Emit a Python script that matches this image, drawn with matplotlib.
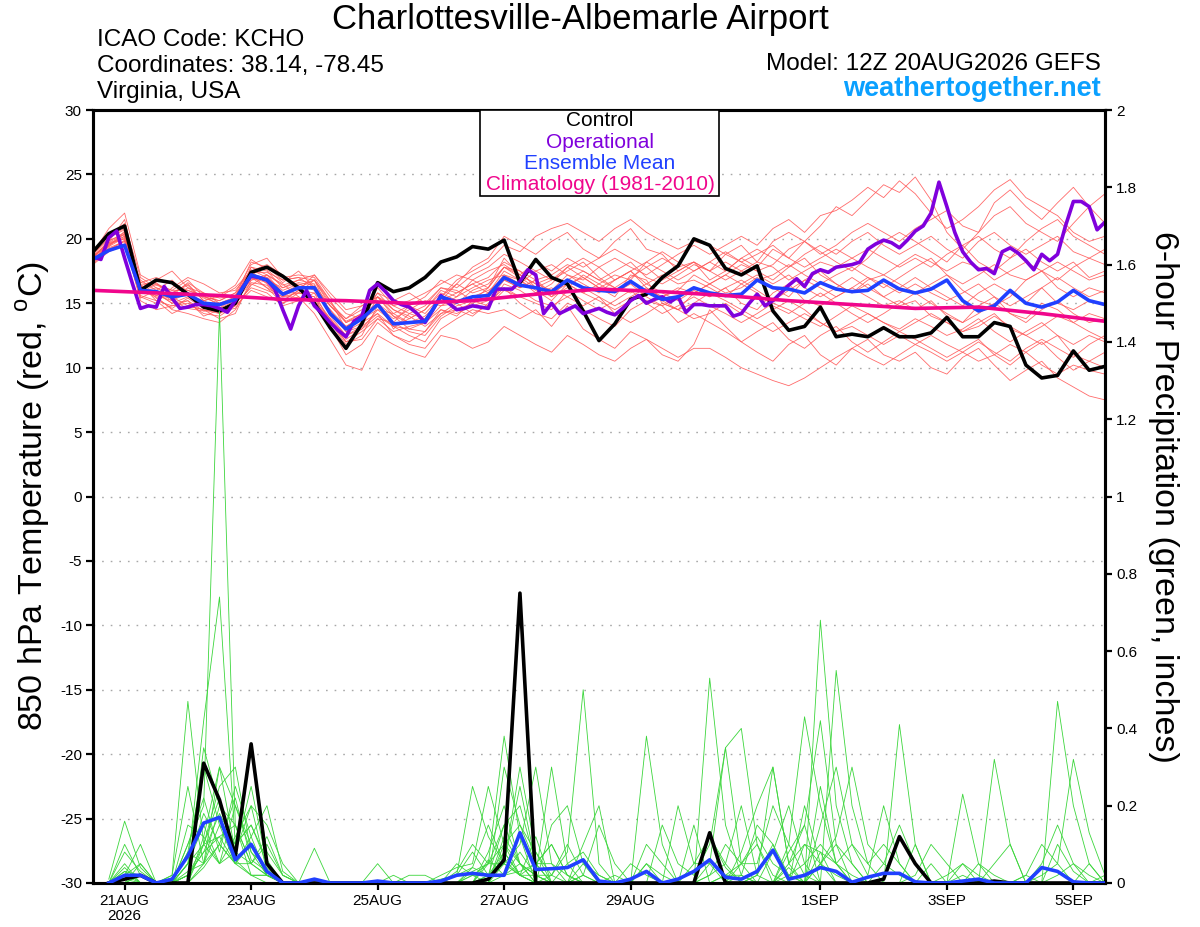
import matplotlib
matplotlib.use("Agg")
import matplotlib.pyplot as plt
from matplotlib.patches import Rectangle
import numpy as np

plt.rcParams['font.family'] = ['Liberation Sans', 'DejaVu Sans']
plt.rcParams['axes.unicode_minus'] = False

# ---- data (hours after 12Z 20AUG2026) ----
control_t = [19.0, 20.4, 21.0, 16.0, 16.8, 16.6, 15.7, 14.7, 14.4, 15.0, 17.4, 17.8, 17.1,
             16.2, 15.0, 13.1, 11.5, 13.4, 16.6, 15.9, 16.2, 17.0, 18.2, 18.6, 19.4, 19.2,
             19.9, 16.6, 18.4, 17.0, 16.5, 14.4, 12.1, 13.4, 15.3, 15.7, 17.0, 17.9, 20.0,
             19.5, 17.7, 17.2, 17.9, 14.4, 12.9, 13.2, 14.7, 12.4, 12.6, 12.4, 13.1, 12.4,
             12.4, 12.7, 13.9, 12.4, 12.4, 13.5, 13.2, 10.2, 9.2, 9.4, 11.3, 9.8, 10.1]

mean_t = [18.4, 19.1, 19.5, 16.0, 15.9, 15.5, 15.7, 15.0, 14.9, 15.3, 17.2, 16.8, 15.7,
          16.2, 16.2, 14.2, 13.0, 13.8, 14.9, 13.4, 13.5, 13.6, 15.5, 15.1, 15.5, 15.6,
          17.0, 16.4, 16.2, 15.9, 16.8, 16.2, 16.0, 15.9, 16.7, 15.9, 15.3, 15.5, 16.2,
          15.8, 15.6, 15.7, 16.8, 16.2, 16.1, 15.8, 16.6, 16.1, 15.9, 16.0, 16.8, 16.1,
          15.8, 16.1, 16.8, 15.2, 14.4, 14.8, 16.0, 15.0, 14.7, 15.1, 16.0, 15.2, 14.9]

# operational run is 3-hourly
oper_t = [18.6, 18.4, 20.1, 20.6, 18.5, 16.5, 14.6, 14.8, 14.7, 16.3, 15.4, 14.6, 14.7, 14.9,
          14.9, 14.8, 14.6, 14.3, 15.2, 16.3, 17.1, 17.0, 16.8, 16.1, 14.5, 13.0, 14.8, 16.0,
          14.8, 14.2, 13.5, 12.9, 12.4, 13.6, 14.0, 16.0, 16.5, 15.9, 15.2, 14.9, 14.7, 14.2,
          13.5, 14.5, 15.6, 15.0, 14.5, 14.6, 14.8, 14.7, 14.6, 16.1, 16.1, 16.1, 16.7, 17.6,
          17.2, 14.2, 15.0, 14.2, 14.5, 14.8, 14.2, 14.4, 14.6, 14.3, 14.1, 14.6, 15.2, 15.6,
          15.0, 15.3, 15.5, 15.1, 15.5, 14.3, 14.9, 14.9, 14.8, 14.8, 14.8, 14.0, 14.2, 15.0,
          15.7, 14.8, 15.2, 15.8, 16.4, 16.9, 16.3, 17.3, 17.6, 17.4, 17.8, 17.9, 18.0, 18.2,
          19.2, 19.6, 19.9, 19.7, 19.3, 19.9, 20.6, 21.0, 22.0, 24.4, 22.5, 20.5, 19.0, 18.2,
          17.6, 17.7, 17.3, 19.0, 19.3, 18.9, 18.3, 17.6, 18.8, 18.3, 18.8, 21.0, 22.9, 22.9,
          22.5, 20.7, 21.3]

# climatology, daily
clim_t = [16.0, 15.8, 15.6, 15.3, 15.2, 15.0, 15.2, 15.7, 16.1, 15.9, 15.6, 15.2, 14.9,
          14.6, 14.7, 14.2, 13.6]

members_t = [
    [18.6, 19.8, 20.5, 16.5, 15.2, 14.8, 15.0, 14.2, 14.0, 14.8, 17.8, 17.5, 16.2,
     16.8, 16.5, 14.0, 12.5, 13.2, 15.5, 14.0, 13.0, 12.8, 14.5, 14.0, 15.2, 15.8,
     17.5, 16.8, 16.0, 15.2, 16.5, 17.0, 16.2, 15.5, 17.2, 16.8, 15.0, 14.5, 15.8,
     16.5, 17.2, 18.0, 17.5, 16.8, 17.8, 18.5, 17.2, 16.5, 15.8, 16.5, 15.5, 14.8,
     15.2, 14.0, 13.5, 12.8, 13.5, 14.2, 13.0, 12.5, 11.8, 12.5, 11.0, 10.5, 11.2],
    [18.2, 19.5, 20.2, 15.8, 16.5, 16.0, 16.8, 15.5, 15.2, 15.8, 17.0, 16.2, 15.0,
     15.8, 16.8, 15.0, 13.8, 14.5, 15.2, 13.0, 14.2, 14.8, 16.2, 15.8, 16.5, 17.0,
     18.2, 17.5, 16.8, 17.2, 18.0, 17.5, 16.8, 17.5, 18.2, 17.0, 16.5, 17.2, 18.0,
     17.5, 18.8, 19.5, 18.2, 19.8, 20.5, 19.8, 21.0, 22.5, 21.8, 23.0, 24.2, 23.6,
     24.8, 23.0, 20.5, 19.2, 20.5, 22.8, 23.8, 22.5, 21.5, 22.8, 24.0, 22.5, 21.2],
    [18.8, 20.0, 21.2, 17.0, 16.2, 15.5, 14.8, 14.5, 13.8, 14.2, 16.8, 17.2, 16.5,
     15.5, 15.0, 13.5, 11.8, 12.5, 14.8, 13.2, 12.5, 12.0, 13.8, 14.5, 14.0, 15.0,
     16.2, 15.0, 14.2, 13.8, 15.0, 14.5, 13.8, 13.2, 14.5, 15.2, 14.8, 13.5, 14.2,
     13.5, 12.8, 12.0, 11.2, 10.5, 11.8, 12.5, 11.0, 10.2, 11.5, 12.2, 11.0, 10.5,
     11.2, 10.0, 9.5, 10.8, 11.5, 10.2, 9.0, 9.8, 10.5, 9.2, 8.5, 7.8, 7.5],
    [18.5, 19.2, 19.8, 16.2, 16.8, 17.5, 16.2, 15.8, 15.0, 15.5, 18.2, 17.8, 16.8,
     17.0, 16.2, 14.8, 13.5, 14.0, 16.2, 14.8, 14.2, 13.8, 15.5, 16.5, 15.8, 16.2,
     18.5, 17.2, 16.5, 16.0, 17.2, 16.5, 15.8, 16.8, 17.5, 16.2, 15.5, 16.0, 17.2,
     16.5, 15.8, 16.2, 17.0, 16.2, 15.5, 16.8, 17.5, 16.5, 15.8, 16.8, 17.2, 16.5,
     15.8, 16.5, 17.2, 16.0, 15.2, 14.8, 15.5, 16.8, 17.5, 16.2, 15.5, 16.2, 15.8],
    [18.0, 19.0, 19.5, 15.5, 15.0, 16.2, 17.0, 16.5, 15.8, 16.0, 17.5, 16.5, 15.2,
     16.0, 17.2, 15.5, 14.2, 13.8, 14.5, 13.5, 14.8, 15.5, 16.8, 16.2, 17.2, 17.8,
     18.8, 18.2, 17.5, 16.8, 17.8, 18.5, 17.8, 16.8, 17.5, 18.2, 17.5, 16.8, 17.5,
     18.2, 17.5, 18.5, 19.2, 18.5, 17.8, 18.8, 19.5, 18.8, 19.8, 20.5, 19.5, 18.8,
     19.5, 20.2, 19.2, 18.5, 19.8, 20.5, 19.5, 18.8, 19.5, 20.2, 19.0, 18.5, 19.2],
    [19.0, 20.2, 20.8, 16.0, 15.5, 14.5, 14.2, 13.8, 13.5, 14.5, 16.5, 16.0, 15.5,
     15.8, 15.5, 13.2, 11.0, 11.8, 13.5, 12.5, 11.8, 11.5, 13.0, 13.8, 14.5, 14.2,
     14.5, 13.8, 14.5, 13.2, 14.8, 13.0, 12.2, 11.5, 12.8, 12.2, 11.0, 10.5, 11.8,
     14.5, 13.2, 12.0, 12.8, 13.5, 12.2, 11.5, 12.5, 13.2, 12.0, 11.2, 12.0, 12.8,
     12.2, 11.5, 10.8, 11.5, 12.2, 11.0, 10.2, 11.2, 12.0, 10.8, 9.8, 10.5, 10.0],
    [18.4, 19.6, 20.0, 16.8, 16.0, 15.2, 15.8, 15.0, 14.8, 15.2, 16.8, 17.0, 16.0,
     16.5, 16.0, 14.5, 13.2, 13.8, 14.8, 13.8, 14.5, 15.2, 14.8, 15.5, 16.2, 16.8,
     17.2, 16.5, 17.5, 18.0, 17.2, 16.8, 17.8, 18.5, 17.8, 17.2, 18.0, 18.8, 19.5,
     18.8, 19.5, 20.2, 19.5, 20.8, 21.5, 20.5, 21.8, 22.2, 23.0, 24.0, 23.2, 24.5,
     23.5, 22.0, 20.8, 21.5, 22.5, 23.8, 24.6, 23.2, 22.5, 21.8, 20.5, 19.8, 20.2],
    [18.7, 19.4, 20.6, 16.2, 15.8, 15.0, 15.5, 14.8, 14.2, 15.0, 17.2, 16.2, 15.5,
     16.2, 16.8, 14.2, 12.8, 13.5, 14.2, 13.2, 13.8, 14.5, 15.8, 15.2, 15.5, 16.0,
     16.8, 16.2, 16.8, 15.5, 16.2, 17.2, 16.5, 15.8, 16.5, 15.5, 14.8, 15.5, 16.2,
     15.5, 16.2, 15.0, 14.5, 15.8, 16.5, 15.2, 14.8, 15.5, 16.2, 15.5, 14.8, 15.2,
     14.5, 15.2, 14.0, 13.5, 14.8, 15.5, 14.2, 13.8, 15.0, 14.5, 13.5, 14.2, 13.8],
    [18.9, 20.8, 22.0, 17.2, 16.5, 15.8, 16.5, 15.2, 15.5, 16.2, 17.5, 18.0, 17.2,
     16.0, 15.2, 13.8, 12.2, 13.0, 14.5, 14.2, 13.5, 14.0, 15.2, 16.5, 17.8, 18.5,
     20.2, 19.5, 18.8, 19.8, 20.5, 19.2, 18.5, 19.8, 20.8, 19.2, 18.8, 17.5, 18.2,
     16.8, 17.5, 18.5, 17.8, 19.2, 18.5, 19.8, 18.8, 19.5, 20.5, 21.2, 20.5, 19.8,
     20.8, 21.5, 22.2, 21.0, 20.5, 21.8, 22.5, 21.2, 20.5, 19.8, 21.2, 22.5, 23.5],
    [18.3, 19.3, 19.8, 15.2, 14.5, 14.8, 15.2, 14.0, 14.5, 15.0, 16.2, 15.8, 14.8,
     15.2, 15.8, 13.5, 12.0, 12.8, 13.8, 12.8, 13.2, 13.5, 14.8, 15.0, 14.2, 14.8,
     16.0, 15.5, 15.0, 14.5, 16.0, 15.2, 14.5, 15.2, 16.0, 15.0, 14.2, 14.8, 15.5,
     14.8, 14.2, 13.5, 14.2, 15.0, 14.5, 13.8, 13.2, 14.0, 14.8, 14.2, 13.5, 13.0,
     13.8, 13.2, 12.5, 13.0, 13.8, 12.8, 12.0, 12.8, 13.5, 12.5, 11.8, 12.5, 12.0],
    [18.6, 19.7, 20.4, 16.6, 17.0, 16.5, 16.0, 15.5, 15.2, 15.8, 18.0, 18.5, 17.0,
     17.2, 17.0, 15.2, 13.0, 14.2, 15.8, 14.5, 14.0, 13.2, 14.2, 15.0, 16.0, 16.5,
     17.8, 17.0, 16.2, 16.8, 17.5, 18.2, 17.0, 16.2, 17.0, 17.8, 18.5, 17.8, 18.2,
     17.5, 18.2, 17.5, 18.2, 17.8, 16.8, 17.5, 18.2, 17.8, 18.5, 19.2, 18.5, 17.8,
     18.5, 17.8, 18.8, 19.5, 18.2, 17.5, 18.5, 19.2, 18.2, 17.5, 18.2, 17.0, 17.5],
    [18.1, 19.1, 19.9, 15.6, 15.2, 14.2, 14.8, 14.5, 14.2, 14.8, 16.0, 15.5, 15.0,
     15.5, 14.2, 12.2, 10.2, 9.8, 12.5, 11.8, 11.2, 10.8, 12.5, 12.2, 11.5, 12.0,
     13.2, 12.5, 11.8, 11.2, 12.5, 11.8, 11.0, 10.5, 11.5, 12.2, 11.5, 10.8, 11.5,
     11.5, 10.8, 10.0, 9.5, 9.0, 8.6, 9.2, 10.0, 10.8, 11.5, 10.8, 10.2, 11.0,
     11.8, 11.2, 10.5, 11.2, 12.0, 11.2, 10.5, 11.5, 12.2, 11.5, 10.8, 11.8, 12.5],
    [18.5, 19.9, 20.3, 15.9, 16.2, 15.8, 16.4, 15.2, 14.6, 15.6, 17.6, 17.0, 15.8,
     16.4, 16.8, 15.2, 13.5, 14.2, 15.0, 14.0, 13.5, 13.8, 15.2, 15.8, 16.5, 15.8,
     17.2, 16.8, 15.8, 16.5, 17.8, 17.0, 16.2, 16.8, 17.5, 16.5, 15.8, 15.2, 16.0,
     15.5, 16.2, 16.8, 16.0, 15.2, 16.0, 16.8, 16.2, 15.5, 16.2, 17.0, 16.5, 15.8,
     16.5, 15.8, 15.2, 15.8, 16.5, 15.5, 14.8, 15.5, 16.2, 15.0, 14.5, 15.2, 14.8],
    [18.3, 19.4, 20.1, 16.3, 15.6, 15.4, 16.2, 15.4, 15.0, 15.4, 17.8, 17.2, 16.4,
     16.8, 17.2, 15.8, 14.5, 14.8, 15.5, 14.2, 14.8, 14.2, 15.5, 16.8, 17.5, 18.2,
     19.5, 19.0, 20.2, 20.8, 21.2, 20.5, 19.8, 20.8, 21.5, 20.5, 19.8, 19.2, 19.8,
     19.5, 18.8, 18.2, 18.8, 19.5, 18.5, 17.8, 18.5, 19.2, 18.5, 17.8, 17.2, 18.0,
     18.8, 18.2, 17.5, 18.2, 17.8, 16.8, 17.5, 18.2, 17.5, 16.8, 17.8, 18.5, 18.0],
    [18.8, 20.1, 20.7, 16.4, 15.4, 14.6, 15.4, 14.6, 14.4, 15.0, 17.0, 16.6, 15.6,
     15.4, 15.0, 13.8, 12.0, 12.2, 13.8, 13.5, 12.8, 12.5, 14.0, 14.8, 15.2, 14.8,
     16.5, 16.0, 15.2, 14.8, 15.5, 16.2, 15.5, 14.8, 15.5, 16.2, 15.2, 14.5, 15.0,
     15.8, 15.2, 14.5, 13.8, 14.5, 15.2, 14.5, 13.5, 12.8, 13.5, 14.2, 13.5, 12.8,
     13.5, 14.2, 13.5, 12.8, 13.2, 14.0, 13.2, 12.5, 13.2, 14.0, 13.5, 12.8, 12.2],
    [18.2, 19.2, 19.6, 15.4, 16.0, 16.8, 15.6, 15.2, 15.6, 16.4, 18.4, 17.6, 16.6,
     17.5, 16.2, 14.2, 13.2, 14.0, 15.8, 15.2, 15.8, 15.0, 16.2, 16.0, 15.2, 16.2,
     17.8, 17.2, 16.5, 17.0, 16.5, 15.8, 16.5, 17.2, 16.8, 18.2, 19.0, 18.2, 17.5,
     18.2, 19.0, 18.2, 17.5, 18.0, 19.2, 19.8, 19.0, 18.2, 17.5, 18.5, 19.8, 20.5,
     19.8, 19.0, 18.2, 19.5, 20.2, 19.2, 18.5, 19.8, 20.8, 21.5, 20.2, 19.5, 18.8],
    [18.6, 19.6, 20.2, 16.0, 15.6, 15.2, 14.6, 14.4, 14.6, 15.2, 16.6, 16.4, 15.2,
     16.0, 15.8, 14.5, 12.8, 13.2, 14.2, 12.5, 12.0, 12.8, 14.2, 14.5, 15.0, 15.5,
     16.2, 15.5, 15.8, 16.2, 15.5, 14.8, 15.5, 14.2, 13.5, 14.2, 15.0, 14.5, 13.8,
     14.2, 15.0, 14.2, 13.5, 12.8, 13.5, 14.2, 13.5, 12.8, 13.2, 12.5, 11.8, 12.5,
     11.8, 12.5, 11.8, 11.2, 10.5, 11.0, 11.8, 11.2, 10.2, 9.5, 10.2, 9.8, 9.5],
    [18.4, 19.5, 20.4, 16.6, 16.4, 16.0, 16.0, 15.6, 14.8, 15.4, 17.4, 17.4, 16.8,
     17.0, 16.8, 14.8, 13.8, 14.8, 15.5, 14.5, 13.8, 14.5, 16.0, 15.5, 16.8, 16.2,
     17.8, 17.5, 16.2, 15.5, 16.8, 17.5, 16.8, 16.2, 15.8, 16.5, 17.2, 16.5, 16.8,
     16.2, 15.5, 16.5, 17.2, 16.5, 17.2, 16.2, 15.5, 16.2, 17.0, 16.2, 15.5, 16.2,
     17.0, 16.2, 15.5, 14.8, 15.8, 16.5, 15.8, 15.0, 16.2, 17.0, 16.2, 15.5, 16.0],
    [18.5, 19.8, 21.5, 16.2, 15.8, 15.0, 15.2, 14.4, 14.4, 14.6, 16.4, 17.2, 15.8,
     15.8, 15.5, 13.8, 12.5, 13.0, 14.0, 13.2, 13.0, 13.5, 14.5, 14.2, 14.8, 15.2,
     16.8, 16.2, 16.8, 15.8, 16.5, 15.8, 15.2, 14.5, 15.2, 16.0, 15.5, 16.2, 15.8,
     16.5, 17.2, 16.5, 15.8, 14.8, 14.2, 15.0, 15.8, 15.0, 14.2, 13.5, 14.2, 15.0,
     15.8, 15.0, 14.2, 13.5, 14.2, 15.0, 14.2, 13.5, 14.5, 15.2, 14.2, 13.5, 13.8],
    [18.7, 19.7, 20.0, 16.4, 16.6, 15.6, 16.6, 15.8, 15.4, 15.6, 17.0, 16.8, 16.2,
     16.6, 16.4, 14.8, 13.6, 14.2, 15.5, 14.8, 15.2, 15.8, 16.5, 17.2, 16.8, 17.5,
     18.0, 17.2, 18.2, 17.5, 18.5, 17.8, 18.5, 19.2, 18.5, 17.8, 16.8, 17.5, 18.2,
     17.5, 16.8, 17.5, 16.8, 17.2, 18.0, 17.2, 16.5, 17.2, 17.8, 17.0, 16.2, 17.0,
     17.8, 18.5, 17.2, 16.5, 17.2, 18.0, 17.2, 16.8, 17.5, 18.2, 17.5, 16.8, 17.2],
]

# 6-hour precipitation (inches), valid 6h..384h
control_p = [0, 0.01, 0.02, 0, 0, 0, 0.31, 0.215, 0.07, 0.36, 0.05, 0, 0, 0, 0, 0,
             0, 0, 0, 0, 0, 0, 0, 0, 0.01, 0.06, 0.75, 0, 0, 0, 0, 0,
             0, 0, 0, 0, 0, 0, 0.13, 0, 0, 0, 0, 0, 0, 0, 0, 0,
             0, 0.01, 0.12, 0.05, 0, 0, 0, 0, 0.005, 0, 0, 0, 0, 0, 0, 0]

mean_p = [0, 0.02, 0.02, 0, 0.01, 0.07, 0.155, 0.17, 0.06, 0.10, 0.03, 0, 0, 0.01, 0, 0,
          0, 0.005, 0, 0, 0, 0.005, 0.02, 0.025, 0.02, 0.02, 0.13, 0.035, 0.037, 0.04, 0.06, 0.005,
          0, 0.01, 0.03, 0, 0.01, 0.03, 0.06, 0.015, 0.01, 0.03, 0.085, 0.01, 0.02, 0.04, 0.03, 0.002,
          0.015, 0.025, 0.025, 0.003, 0, 0, 0.005, 0.01, 0, 0, 0, 0.04, 0.03, 0.003, 0, 0]

members_p = [
    [0, 0.02, 0.1, 0, 0, 0.1, 0.2, 1.48, 0.15, 0.05, 0.02, 0, 0, 0, 0, 0,
     0, 0, 0, 0, 0, 0, 0, 0.02, 0.05, 0.1, 0.15, 0.08, 0.02, 0, 0, 0,
     0, 0, 0.05, 0, 0, 0, 0.12, 0.04, 0, 0, 0, 0.1, 0.43, 0.2, 0.05, 0,
     0, 0, 0, 0, 0, 0, 0, 0, 0, 0, 0, 0.02, 0.05, 0, 0, 0],
    [0.01, 0.16, 0.04, 0, 0, 0.05, 0.42, 0.74, 0.1, 0.15, 0.05, 0, 0, 0, 0, 0,
     0, 0, 0, 0, 0, 0, 0.03, 0.1, 0.05, 0.38, 0.12, 0, 0, 0.05, 0.08, 0.02,
     0, 0, 0, 0, 0, 0, 0.53, 0.15, 0.02, 0, 0, 0, 0, 0.68, 0.2, 0.05,
     0, 0, 0, 0, 0.05, 0, 0, 0, 0, 0, 0, 0, 0.1, 0.03, 0, 0],
    [0, 0.03, 0, 0, 0.02, 0.47, 0.1, 0.25, 0.3, 0.08, 0.02, 0, 0, 0, 0, 0,
     0, 0, 0, 0, 0, 0.02, 0.04, 0.05, 0.25, 0.1, 0.05, 0.02, 0, 0, 0.02, 0,
     0, 0, 0.38, 0.1, 0, 0, 0, 0, 0.08, 0.2, 0.3, 0.05, 0, 0, 0.55, 0.2,
     0.05, 0, 0, 0, 0, 0, 0, 0, 0, 0, 0, 0, 0.47, 0.2, 0.05, 0],
    [0, 0, 0.05, 0, 0, 0.08, 0.3, 0.15, 0.05, 0.12, 0.2, 0.03, 0, 0, 0, 0,
     0, 0, 0.02, 0, 0, 0, 0, 0, 0, 0.3, 0.15, 0.05, 0.1, 0.02, 0, 0,
     0, 0, 0, 0, 0, 0, 0.05, 0.35, 0.4, 0.1, 0, 0, 0, 0, 0, 0,
     0, 0, 0.41, 0.1, 0, 0, 0, 0, 0, 0, 0, 0, 0, 0, 0, 0],
    [0, 0.1, 0.02, 0, 0, 0.02, 0.35, 0.2, 0.08, 0.25, 0.05, 0, 0, 0.09, 0, 0,
     0, 0.05, 0, 0, 0, 0, 0.02, 0.25, 0.12, 0.05, 0.02, 0, 0.02, 0.08, 0.5, 0.05,
     0, 0, 0, 0, 0, 0, 0, 0.02, 0.05, 0.1, 0.02, 0, 0, 0.25, 0.05, 0,
     0, 0, 0, 0, 0, 0, 0.23, 0.05, 0, 0, 0, 0, 0, 0, 0, 0],
    [0, 0, 0, 0, 0, 0.15, 0.12, 0.3, 0.2, 0.1, 0.02, 0, 0, 0, 0, 0,
     0, 0, 0, 0, 0, 0, 0, 0, 0, 0.05, 0.3, 0.08, 0, 0, 0.02, 0.15,
     0.05, 0, 0.1, 0.05, 0, 0, 0, 0, 0, 0.02, 0.3, 0.05, 0.15, 0.42, 0.1, 0,
     0, 0, 0, 0, 0, 0, 0, 0, 0.32, 0.1, 0, 0, 0, 0, 0.05, 0],
    [0, 0.03, 0.02, 0, 0, 0.05, 0.18, 0.1, 0.22, 0.06, 0.03, 0, 0, 0, 0, 0,
     0, 0, 0, 0, 0, 0.01, 0.02, 0.04, 0.15, 0.05, 0.1, 0.3, 0.05, 0, 0, 0,
     0, 0, 0, 0, 0.2, 0.05, 0.12, 0.05, 0, 0, 0, 0.04, 0, 0.15, 0.3, 0.1,
     0.05, 0.1, 0.05, 0, 0, 0, 0.05, 0.02, 0, 0, 0.02, 0.1, 0.05, 0.32, 0.13, 0.02],
    [0, 0, 0, 0, 0.02, 0.25, 0.05, 0.15, 0.1, 0.35, 0.08, 0.02, 0, 0, 0, 0,
     0, 0, 0, 0, 0, 0, 0, 0, 0.02, 0.08, 0.02, 0, 0.15, 0.2, 0.05, 0,
     0, 0, 0, 0, 0, 0, 0, 0, 0.05, 0.12, 0.05, 0.02, 0, 0.05, 0.12, 0.3,
     0.1, 0.05, 0.02, 0, 0, 0, 0, 0, 0.05, 0.1, 0, 0, 0.02, 0.05, 0.02, 0],
    [0, 0.01, 0, 0, 0, 0, 0.12, 0.05, 0.08, 0.2, 0.15, 0.05, 0, 0, 0, 0,
     0, 0, 0, 0, 0, 0, 0, 0.04, 0.02, 0.02, 0.05, 0.02, 0, 0, 0, 0,
     0, 0, 0, 0.15, 0.05, 0.02, 0.1, 0.35, 0.05, 0, 0, 0.02, 0.05, 0.1, 0.05, 0.1,
     0.02, 0.2, 0.05, 0, 0, 0, 0, 0.05, 0.02, 0, 0, 0, 0, 0, 0, 0],
    [0, 0.08, 0.03, 0, 0, 0.02, 0.1, 0.12, 0.05, 0.05, 0.02, 0, 0, 0, 0, 0,
     0, 0, 0, 0.02, 0.02, 0, 0, 0, 0.08, 0.2, 0.05, 0, 0, 0, 0.1, 0.2,
     0, 0, 0, 0, 0, 0, 0.02, 0.1, 0.05, 0.05, 0.2, 0.1, 0.02, 0, 0, 0,
     0, 0, 0, 0, 0, 0.02, 0.05, 0, 0, 0, 0, 0.05, 0.15, 0.05, 0, 0.02],
    [0, 0, 0.02, 0, 0, 0.08, 0.05, 0.2, 0.15, 0.05, 0.1, 0.02, 0, 0, 0, 0,
     0, 0, 0, 0, 0, 0, 0.05, 0.02, 0, 0.12, 0.05, 0, 0, 0, 0.05, 0.02,
     0, 0, 0.05, 0.02, 0, 0, 0, 0, 0, 0, 0, 0, 0.2, 0.05, 0, 0,
     0, 0, 0, 0, 0, 0, 0.02, 0, 0, 0, 0, 0, 0, 0, 0, 0],
    [0, 0, 0, 0, 0, 0.02, 0.08, 0.18, 0.1, 0.15, 0.06, 0, 0, 0, 0, 0,
     0, 0, 0, 0, 0, 0, 0, 0.02, 0.02, 0.06, 0.02, 0.02, 0.3, 0.05, 0, 0,
     0, 0.05, 0.02, 0, 0, 0, 0.02, 0.05, 0.2, 0.02, 0, 0, 0, 0.05, 0.1, 0.05,
     0, 0, 0, 0, 0, 0, 0, 0, 0, 0, 0, 0, 0, 0, 0, 0],
    [0, 0.02, 0.05, 0, 0, 0.1, 0.22, 0.08, 0.25, 0.12, 0.02, 0, 0, 0, 0, 0,
     0, 0, 0, 0, 0, 0, 0, 0, 0.06, 0.02, 0.03, 0.05, 0.1, 0.02, 0, 0,
     0, 0, 0, 0, 0, 0.15, 0, 0, 0, 0, 0.08, 0.2, 0.05, 0, 0, 0,
     0, 0, 0, 0.1, 0, 0, 0, 0, 0, 0, 0, 0, 0, 0, 0, 0],
    [0, 0, 0, 0, 0, 0.05, 0.15, 0.05, 0.12, 0.2, 0.03, 0, 0, 0, 0, 0,
     0, 0, 0, 0, 0, 0, 0, 0.03, 0.05, 0.15, 0.2, 0.05, 0, 0, 0, 0,
     0.02, 0, 0, 0, 0, 0, 0, 0.02, 0.02, 0, 0, 0.05, 0.1, 0.08, 0, 0,
     0, 0, 0, 0.02, 0.1, 0.05, 0, 0, 0, 0, 0, 0, 0, 0, 0, 0],
    [0, 0.05, 0, 0, 0, 0.03, 0.05, 0.1, 0.05, 0.02, 0.02, 0, 0, 0, 0, 0,
     0, 0, 0, 0, 0, 0, 0.02, 0.08, 0.02, 0.05, 0.25, 0.05, 0, 0, 0, 0,
     0, 0, 0, 0, 0, 0, 0, 0, 0, 0, 0, 0.08, 0.15, 0, 0, 0,
     0, 0, 0, 0, 0, 0, 0, 0, 0, 0, 0, 0, 0, 0, 0, 0],
    [0, 0, 0.02, 0, 0, 0, 0.05, 0.3, 0.08, 0.05, 0.12, 0.02, 0, 0, 0, 0,
     0, 0, 0, 0, 0, 0, 0, 0, 0, 0.08, 0.02, 0.05, 0.05, 0.02, 0, 0,
     0, 0, 0, 0, 0, 0.05, 0.05, 0, 0.02, 0.15, 0.1, 0, 0, 0, 0, 0,
     0, 0, 0, 0, 0, 0, 0, 0, 0, 0, 0.02, 0, 0, 0, 0, 0],
    [0, 0.04, 0, 0, 0, 0, 0.1, 0.05, 0.2, 0.08, 0.04, 0, 0, 0, 0, 0,
     0, 0, 0, 0, 0, 0, 0, 0, 0, 0.02, 0.08, 0.02, 0.02, 0.1, 0.02, 0,
     0, 0, 0, 0, 0, 0, 0, 0, 0, 0, 0, 0, 0, 0.08, 0.05, 0.02,
     0, 0.05, 0.15, 0.05, 0, 0, 0, 0, 0, 0, 0, 0, 0, 0, 0, 0],
    [0, 0, 0, 0, 0, 0.05, 0.1, 0.22, 0.06, 0.02, 0.02, 0, 0, 0, 0, 0,
     0, 0, 0, 0, 0, 0, 0, 0, 0.05, 0.05, 0.02, 0.12, 0, 0, 0, 0,
     0, 0, 0, 0, 0, 0, 0, 0, 0, 0.02, 0.1, 0.02, 0, 0, 0, 0,
     0, 0, 0, 0, 0, 0, 0, 0, 0, 0, 0, 0, 0, 0, 0, 0],
    [0, 0.02, 0, 0, 0, 0.02, 0.08, 0.12, 0.15, 0.02, 0, 0, 0, 0, 0, 0,
     0, 0, 0, 0, 0, 0, 0, 0, 0, 0.1, 0.02, 0, 0, 0, 0, 0,
     0, 0, 0, 0, 0, 0, 0, 0, 0, 0, 0, 0, 0.1, 0.05, 0.02, 0,
     0, 0, 0, 0, 0, 0, 0, 0, 0, 0, 0, 0, 0, 0, 0, 0],
    [0, 0, 0, 0, 0, 0, 0.04, 0.1, 0.05, 0.1, 0.02, 0, 0, 0, 0, 0,
     0, 0, 0, 0, 0, 0, 0, 0, 0.02, 0.15, 0.05, 0.02, 0, 0, 0, 0,
     0, 0, 0, 0, 0, 0, 0, 0, 0, 0, 0, 0, 0, 0, 0, 0,
     0, 0, 0, 0, 0, 0, 0, 0, 0, 0, 0, 0, 0, 0, 0, 0],
]

tick_hours = [12, 60, 108, 156, 204, 276, 324, 372]
tick_labels = ['21AUG\n2026', '23AUG', '25AUG', '27AUG', '29AUG', '1SEP', '3SEP', '5SEP']
temp_ticks = list(range(30, -31, -5))
precip_ticks = [0, 0.2, 0.4, 0.6, 0.8, 1, 1.2, 1.4, 1.6, 1.8, 2]
precip_labels = ['0', '0.2', '0.4', '0.6', '0.8', '1', '1.2', '1.4', '1.6', '1.8', '2']

# ---- time axes ----
h6 = np.arange(0, 385, 6)
h3 = np.arange(0, 385, 3)
h24 = np.arange(0, 385, 24)
hp = np.arange(6, 385, 6)

W, H = 1200, 927
fig = plt.figure(figsize=(W / 100, H / 100), dpi=100)
ax = fig.add_axes([93 / W, 1 - 883 / H, (1105 - 93) / W, (883 - 110) / H])
ax2 = ax.twinx()

RED = '#ff5a5a'
GREEN = '#3cd63c'
PURPLE = '#8000dc'
BLUE = '#2040ff'
PINK = '#f0068c'

for m in members_t:
    ax.plot(h6, m, color=RED, lw=0.6, alpha=0.9, zorder=2)
ax.plot(h6, control_t, color='black', lw=2.6, zorder=4)
ax.plot(h3, oper_t, color=PURPLE, lw=2.6, zorder=5)
ax.plot(h6, mean_t, color=BLUE, lw=2.6, zorder=6)
ax.plot(h24, clim_t, color=PINK, lw=2.6, zorder=7)

for m in members_p:
    ax2.plot(hp, m, color=GREEN, lw=0.6, zorder=2)
ax2.plot(hp, control_p, color='black', lw=2.6, zorder=4)
ax2.plot(hp, mean_p, color=BLUE, lw=2.6, zorder=5)

ax.set_xlim(0, 384)
ax.set_ylim(-30, 30)
ax2.set_ylim(0, 2)

ax.set_yticks(temp_ticks)
ax.set_yticklabels([str(t) for t in temp_ticks], fontsize=11)
ax2.set_yticks(precip_ticks)
ax2.set_yticklabels(precip_labels, fontsize=11)
ax.set_xticks(tick_hours)
ax.set_xticklabels(tick_labels, fontsize=11, linespacing=1.1)

for t in temp_ticks[1:-1]:
    ax.axhline(t, color='#a8a8a8', lw=1.0, ls=(0, (1.2, 5)), zorder=1)

for a in (ax, ax2):
    for s in a.spines.values():
        s.set_linewidth(2.2)
    a.tick_params(direction='out', length=5, width=1.6, pad=3)

ax.set_ylabel('850 hPa Temperature (red, $^{\\mathregular{o}}$C)', fontsize=24.5, labelpad=6)
ax2.set_ylabel('6-hour Precipitation (green, inches)', fontsize=24.5, rotation=270,
               labelpad=30)

# header text
fig.text(580 / W, 1 - 19 / H, 'Charlottesville-Albemarle Airport', fontsize=25,
         ha='center', va='center')
fig.text(97 / W, 1 - 40 / H, 'ICAO Code: KCHO', fontsize=17.5, ha='left', va='center')
fig.text(97 / W, 1 - 66 / H, 'Coordinates: 38.14, -78.45', fontsize=17.5, ha='left', va='center')
fig.text(97 / W, 1 - 92 / H, 'Virginia, USA', fontsize=17.5, ha='left', va='center')
fig.text(1101 / W, 1 - 64 / H, 'Model: 12Z 20AUG2026 GEFS', fontsize=17.5, ha='right', va='center')
fig.text(1101 / W, 1 - 89 / H, 'weathertogether.net', fontsize=19.5, ha='right', va='center',
         color='#0aa0ff', fontweight='bold')

# legend box
fig.add_artist(Rectangle((480 / W, 1 - 196 / H), 239 / W, 86 / H, transform=fig.transFigure,
                         facecolor='white', edgecolor='black', lw=1.2, zorder=10))
legend_items = [('Control', 'black'), ('Operational', PURPLE),
                ('Ensemble Mean', BLUE), ('Climatology (1981-2010)', PINK)]
for k, (txt, col) in enumerate(legend_items):
    fig.text(600 / W, 1 - (121 + 21.3 * k) / H, txt, color=col, fontsize=15,
             ha='center', va='center', zorder=11)

fig.savefig('out.png', dpi=100)
